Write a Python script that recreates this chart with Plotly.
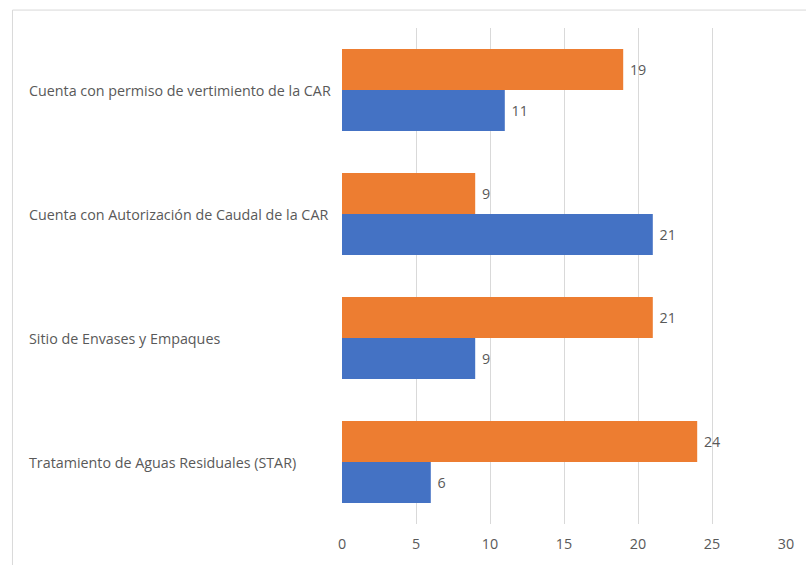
import plotly.graph_objects as go

categories = [
    "Cuenta con permiso de vertimiento de la CAR",
    "Cuenta con Autorización de Caudal de la CAR",
    "Sitio de Envases y Empaques",
    "Tratamiento de Aguas Residuales (STAR)",
]
orange_values = [19, 9, 21, 24]
blue_values = [11, 21, 9, 6]
x_ticks = [0, 5, 10, 15, 20, 25, 30]

W, H = 806, 565
L, R, T, B = 342, 18, 28, 39
pw, ph = W - L - R, H - T - B

label_font = dict(family="Open Sans, Noto Sans, sans-serif", size=14.3, color="#595959")

fig = go.Figure()
fig.add_trace(go.Bar(
    y=categories, x=orange_values, orientation="h",
    marker=dict(color="#ED7D31", line=dict(width=0)),
    text=[f" {v}" for v in orange_values], textposition="outside",
    textfont=label_font, cliponaxis=False, name="Serie 1",
))
fig.add_trace(go.Bar(
    y=categories, x=blue_values, orientation="h",
    marker=dict(color="#4472C4", line=dict(width=0)),
    text=[f" {v}" for v in blue_values], textposition="outside",
    textfont=label_font, cliponaxis=False, name="Serie 2",
))

# left-aligned category labels
for c in categories:
    fig.add_annotation(x=(27 - L) / pw, xref="paper", y=c, yref="y",
                       text=c, showarrow=False, xanchor="left",
                       yanchor="middle", font=label_font, borderpad=0)

# light chart-area border
fig.add_shape(type="rect", xref="paper", yref="paper",
              x0=(11 - L) / pw, x1=(W + 5 - L) / pw,
              y0=-(H + 5 - T - ph) / ph, y1=(H - 10 - B) / ph,
              line=dict(color="#D9D9D9", width=1), layer="below")

fig.update_layout(
    width=W, height=H,
    margin=dict(l=L, r=R, t=T, b=B),
    barmode="group", bargap=0.34, bargroupgap=0,
    showlegend=False,
    plot_bgcolor="white", paper_bgcolor="white",
    font=label_font,
    xaxis=dict(range=[0, 30], tickvals=x_ticks, showgrid=True,
               gridcolor="#D9D9D9", gridwidth=1, zeroline=False,
               showline=False, ticks="", ticklabelstandoff=10,
               tickfont=label_font, fixedrange=True),
    yaxis=dict(categoryorder="array", categoryarray=categories,
               autorange="reversed", showgrid=False, zeroline=False,
               showline=False, ticks="", showticklabels=False,
               fixedrange=True),
)

fig.write_html("out.html", config={"displayModeBar": False},
               post_script="document.body.style.margin='0';document.body.style.overflow='hidden';")
